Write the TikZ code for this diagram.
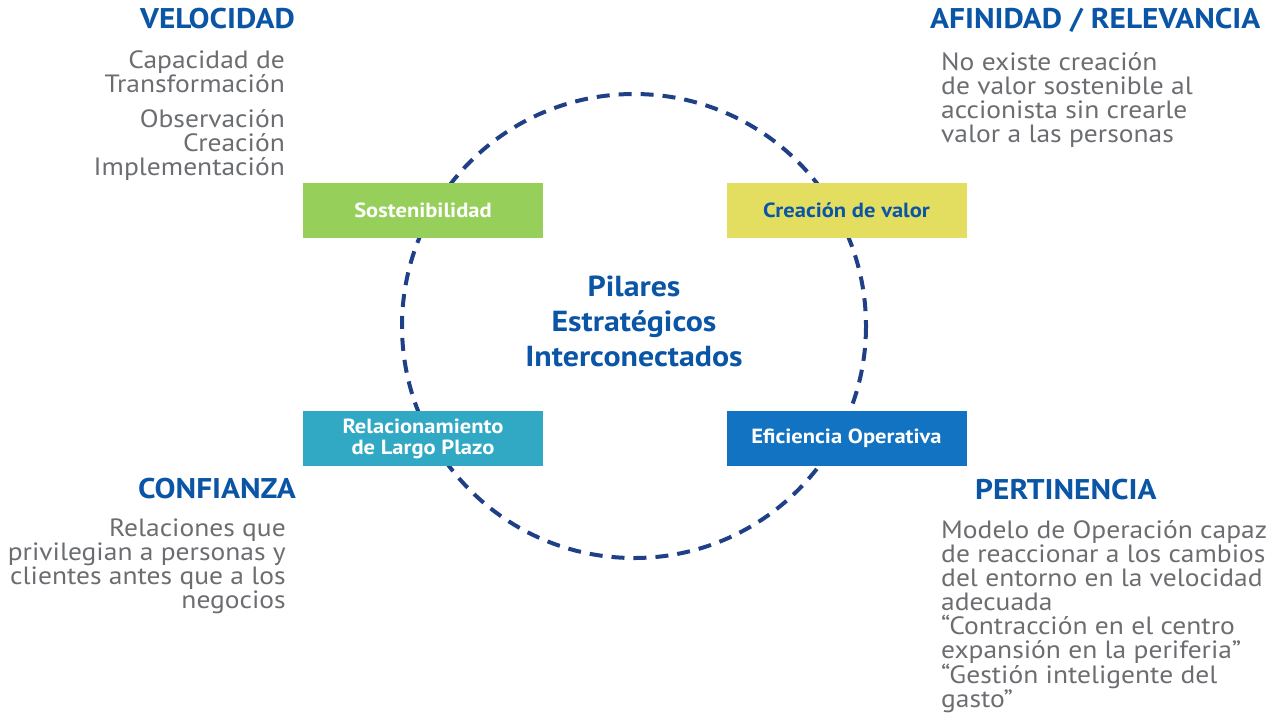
\documentclass[tikz,border=0pt]{standalone}
\usepackage{fontspec}
\setmainfont{PT Sans}[FakeStretch=1.1]
\usetikzlibrary{positioning}
\definecolor{titleblue}{HTML}{0A55A5}
\definecolor{bodygray}{HTML}{6B6D70}
\definecolor{ringblue}{HTML}{1F3F87}
\definecolor{sostgreen}{HTML}{96CF5A}
\definecolor{valoryellow}{HTML}{E4DE60}
\definecolor{relteal}{HTML}{31A9C4}
\definecolor{eficblue}{HTML}{1173C2}

\begin{document}
\begin{tikzpicture}[x=1pt,y=-1pt,
      title/.style={inner sep=0pt,text=titleblue,font=\fontsize{28.5}{28}\selectfont\bfseries},
      body/.style={inner sep=0pt,text=bodygray,font=\fontsize{25}{24}\selectfont},
      pillar/.style={rectangle,minimum width=240pt,minimum height=55pt,inner sep=0pt,
        align=center,font=\fontsize{20.5}{21}\selectfont\bfseries},
      ring/.style={ringblue,line width=4pt,dash pattern=on 13pt off 9pt}
      ]
      \useasboundingbox (0,0) rectangle (1284,713);
      % ring
      \node (ctr) at (634,326) {};
      \draw[ring] (ctr.center) circle (232);
      % pillars
      \node (sost) [pillar,fill=sostgreen,text=white] at (423,210.5) {Sostenibilidad};
      \node (valor) [pillar,fill=valoryellow,text=titleblue] at (846.5,210.5) {Creación de valor};
      \node (rel) [pillar,fill=relteal,text=white] at (423,438.5) {Relacionamiento\\de Largo Plazo};
      \node (efic) [pillar,fill=eficblue,text=white] at (846.5,438.5) {Eficiencia Operativa};
      \node (pil) [align=center,text=titleblue,font=\fontsize{29}{35}\selectfont\bfseries] at (634,321)
        {Pilares\\Estratégicos\\Interconectados};
      % top left
      \node (vel) [title,anchor=north east] at (295,8) {VELOCIDAD};
      \node (vel1) [body,anchor=north east,align=right] at (285,50) {Capacidad de\\Transformación};
      \node (vel2) [body,anchor=north east,align=right] at (285,109) {Observación\\Creación\\Implementación};
      % top right
      \node (afi) [title,anchor=north west] at (930,8) {AFINIDAD / RELEVANCIA};
      \node (afi1) [body,anchor=north west,align=left] at (941,52)
        {No existe creación\\de valor sostenible al\\accionista sin crearle\\valor a las personas};
      % bottom left
      \node (conf) [title,anchor=north east] at (296,478) {CONFIANZA};
      \node (conf1) [body,anchor=north east,align=right] at (286,519)
        {Relaciones que\\privilegian a personas y\\clientes antes que a los\\negocios};
      % bottom right
      \node (pert) [title,anchor=north west] at (975,479) {PERTINENCIA};
      \node (pert1) [body,anchor=north west,align=left] at (941,520)
        {Modelo de Operación capaz\\de reaccionar a los cambios\\del entorno en la velocidad\\adecuada\\“Contracción en el centro\\expansión en la periferia”\\“Gestión inteligente del\\gasto”};
\end{tikzpicture}
\end{document}
